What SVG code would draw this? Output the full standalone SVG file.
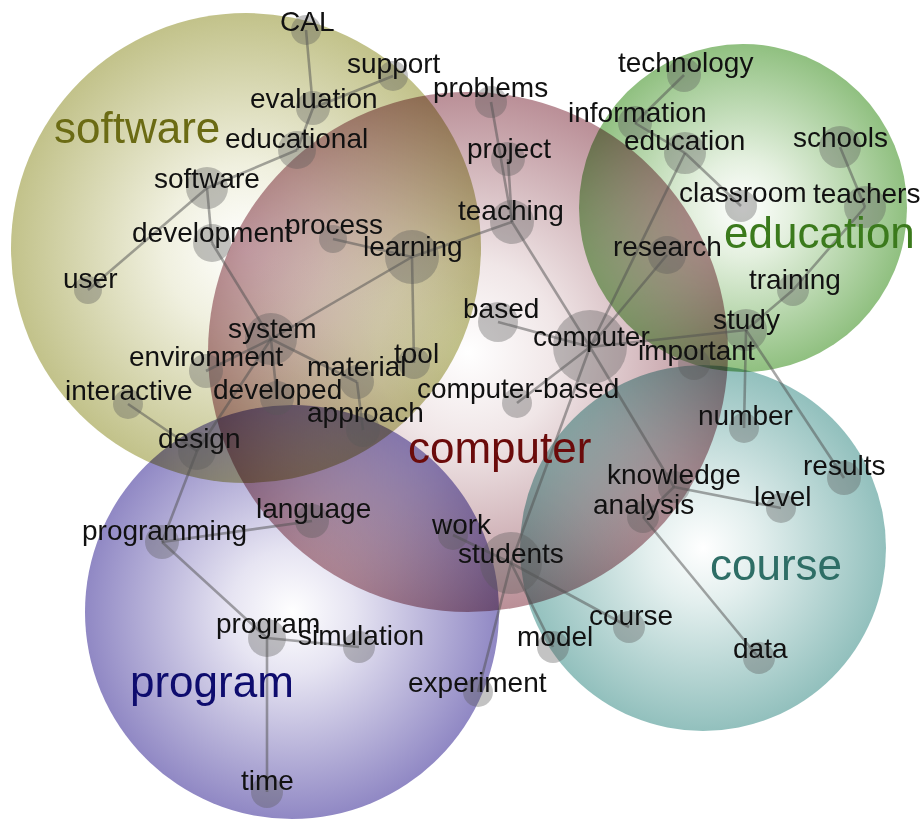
<svg xmlns="http://www.w3.org/2000/svg" width="922" height="819" viewBox="0 0 922 819">
  <defs>
    <radialGradient id="g-software" cx="50%" cy="50%" r="50%">
      <stop offset="0" stop-color="#ffffff"/>
      <stop offset="0.35" stop-color="#f0f0df"/>
      <stop offset="1" stop-color="#c2c28a"/>
    </radialGradient>
    <radialGradient id="g-computer" cx="50%" cy="50%" r="50%">
      <stop offset="0" stop-color="#ffffff"/>
      <stop offset="0.35" stop-color="#f0e6e7"/>
      <stop offset="1" stop-color="#ba8f97"/>
    </radialGradient>
    <radialGradient id="g-education" cx="50%" cy="50%" r="50%">
      <stop offset="0" stop-color="#ffffff"/>
      <stop offset="0.3" stop-color="#e4f0df"/>
      <stop offset="1" stop-color="#90c080"/>
    </radialGradient>
    <radialGradient id="g-course" cx="50%" cy="50%" r="50%">
      <stop offset="0" stop-color="#ffffff"/>
      <stop offset="0.3" stop-color="#e3efee"/>
      <stop offset="1" stop-color="#92c0bd"/>
    </radialGradient>
    <radialGradient id="g-program" cx="50%" cy="50%" r="50%">
      <stop offset="0" stop-color="#ffffff"/>
      <stop offset="0.3" stop-color="#e6e4f2"/>
      <stop offset="1" stop-color="#9088c4"/>
    </radialGradient>
  </defs>
  <style>
    .bubble { mix-blend-mode: multiply; }
    .node { fill: #5a5a5a; fill-opacity: 0.36; }
    .edge { stroke: #505050; stroke-opacity: 0.5; stroke-width: 2.6; fill: none; }
    .term { font-family: "Liberation Sans", Arial, sans-serif; font-size: 28px; fill: #111; }
    .topic { font-family: "Liberation Sans", Arial, sans-serif; font-size: 44px; }
  </style>

  <rect width="922" height="819" fill="#ffffff"/>

  <!-- topic bubbles -->
  <g id="topics">
    <circle id="topic-software" class="bubble" cx="246" cy="248" r="235" fill="url(#g-software)"/>
    <circle id="topic-computer" class="bubble" cx="468" cy="352" r="260" fill="url(#g-computer)"/>
    <circle id="topic-education" class="bubble" cx="743" cy="208" r="164" fill="url(#g-education)"/>
    <circle id="topic-course" class="bubble" cx="703" cy="548" r="183" fill="url(#g-course)"/>
    <circle id="topic-program" class="bubble" cx="292" cy="612" r="207" fill="url(#g-program)"/>
  </g>

  <!-- connectors between terms -->
  <g id="connectors" class="edge">
    <line x1="306" y1="30" x2="313" y2="108"/>
    <line x1="393" y1="76" x2="313" y2="108"/>
    <line x1="313" y1="108" x2="297" y2="150"/>
    <line x1="297" y1="150" x2="207" y2="188"/>
    <line x1="207" y1="188" x2="88" y2="290"/>
    <line x1="207" y1="188" x2="212" y2="243"/>
    <line x1="212" y1="243" x2="271" y2="339"/>
    <line x1="271" y1="339" x2="412" y2="257"/>
    <line x1="333" y1="239" x2="412" y2="257"/>
    <line x1="412" y1="257" x2="414" y2="363"/>
    <line x1="412" y1="257" x2="512" y2="222"/>
    <line x1="271" y1="339" x2="206" y2="371"/>
    <line x1="271" y1="339" x2="277" y2="398"/>
    <line x1="271" y1="339" x2="197" y2="451"/>
    <line x1="271" y1="339" x2="357" y2="382"/>
    <line x1="357" y1="382" x2="363" y2="430"/>
    <line x1="197" y1="451" x2="128" y2="404"/>
    <line x1="197" y1="451" x2="162" y2="542"/>
    <line x1="162" y1="542" x2="312" y2="521"/>
    <line x1="162" y1="542" x2="267" y2="638"/>
    <line x1="267" y1="638" x2="359" y2="647"/>
    <line x1="267" y1="638" x2="267" y2="792"/>
    <line x1="491" y1="102" x2="512" y2="222"/>
    <line x1="508" y1="159" x2="512" y2="222"/>
    <line x1="512" y1="222" x2="590" y2="347"/>
    <line x1="498" y1="322" x2="590" y2="347"/>
    <line x1="590" y1="347" x2="517" y2="403"/>
    <line x1="590" y1="347" x2="667" y2="255"/>
    <line x1="590" y1="347" x2="685" y2="153"/>
    <line x1="685" y1="153" x2="635" y2="123"/>
    <line x1="635" y1="123" x2="684" y2="75"/>
    <line x1="685" y1="153" x2="741" y2="206"/>
    <line x1="590" y1="347" x2="746" y2="330"/>
    <line x1="746" y1="330" x2="793" y2="290"/>
    <line x1="793" y1="290" x2="865" y2="207"/>
    <line x1="865" y1="207" x2="840" y2="147"/>
    <line x1="746" y1="330" x2="744" y2="428"/>
    <line x1="746" y1="330" x2="844" y2="478"/>
    <line x1="590" y1="347" x2="674" y2="487"/>
    <line x1="674" y1="487" x2="781" y2="508"/>
    <line x1="674" y1="487" x2="643" y2="517"/>
    <line x1="643" y1="517" x2="759" y2="658"/>
    <line x1="590" y1="347" x2="511" y2="563"/>
    <line x1="511" y1="563" x2="453" y2="535"/>
    <line x1="511" y1="563" x2="629" y2="627"/>
    <line x1="511" y1="563" x2="553" y2="647"/>
    <line x1="511" y1="563" x2="478" y2="692"/>
  </g>

  <!-- term nodes -->
  <g id="n-cal"><circle class="node" cx="306" cy="30" r="15"/><text class="term" x="280" y="31">CAL</text></g>
  <g id="n-support"><circle class="node" cx="393" cy="76" r="15"/><text class="term" x="347" y="73">support</text></g>
  <g id="n-evaluation"><circle class="node" cx="313" cy="108" r="17"/><text class="term" x="250" y="108">evaluation</text></g>
  <g id="n-educational"><circle class="node" cx="297" cy="150" r="19"/><text class="term" x="225" y="148">educational</text></g>
  <g id="n-software"><circle class="node" cx="207" cy="188" r="21"/><text class="term" x="154" y="188">software</text></g>
  <g id="n-development"><circle class="node" cx="212" cy="243" r="19"/><text class="term" x="132" y="242">development</text></g>
  <g id="n-process"><circle class="node" cx="333" cy="239" r="14"/><text class="term" x="285" y="234">process</text></g>
  <g id="n-learning"><circle class="node" cx="412" cy="257" r="27"/><text class="term" x="363" y="256">learning</text></g>
  <g id="n-user"><circle class="node" cx="88" cy="290" r="14"/><text class="term" x="63" y="288">user</text></g>
  <g id="n-system"><circle class="node" cx="271" cy="339" r="26"/><text class="term" x="228" y="338">system</text></g>
  <g id="n-environment"><circle class="node" cx="206" cy="371" r="17"/><text class="term" x="129" y="366">environment</text></g>
  <g id="n-tool"><circle class="node" cx="414" cy="363" r="16"/><text class="term" x="394" y="363">tool</text></g>
  <g id="n-material"><circle class="node" cx="357" cy="382" r="17"/><text class="term" x="307" y="376">material</text></g>
  <g id="n-interactive"><circle class="node" cx="128" cy="404" r="15"/><text class="term" x="65" y="400">interactive</text></g>
  <g id="n-developed"><circle class="node" cx="277" cy="398" r="17"/><text class="term" x="213" y="399">developed</text></g>
  <g id="n-approach"><circle class="node" cx="363" cy="430" r="17"/><text class="term" x="307" y="422">approach</text></g>
  <g id="n-design"><circle class="node" cx="197" cy="451" r="19"/><text class="term" x="158" y="448">design</text></g>
  <g id="n-programming"><circle class="node" cx="162" cy="542" r="17"/><text class="term" x="82" y="540">programming</text></g>
  <g id="n-language"><circle class="node" cx="312" cy="521" r="17"/><text class="term" x="256" y="518">language</text></g>
  <g id="n-program"><circle class="node" cx="267" cy="638" r="19"/><text class="term" x="216" y="633">program</text></g>
  <g id="n-simulation"><circle class="node" cx="359" cy="647" r="16"/><text class="term" x="298" y="645">simulation</text></g>
  <g id="n-time"><circle class="node" cx="267" cy="792" r="16"/><text class="term" x="241" y="790">time</text></g>
  <g id="n-problems"><circle class="node" cx="491" cy="102" r="16"/><text class="term" x="433" y="97">problems</text></g>
  <g id="n-project"><circle class="node" cx="508" cy="159" r="17"/><text class="term" x="467" y="158">project</text></g>
  <g id="n-teaching"><circle class="node" cx="512" cy="222" r="22"/><text class="term" x="458" y="220">teaching</text></g>
  <g id="n-based"><circle class="node" cx="498" cy="322" r="20"/><text class="term" x="463" y="318">based</text></g>
  <g id="n-computer"><circle class="node" cx="590" cy="347" r="37"/><text class="term" x="533" y="346">computer</text></g>
  <g id="n-computer-based"><circle class="node" cx="517" cy="403" r="15"/><text class="term" x="417" y="398">computer-based</text></g>
  <g id="n-technology"><circle class="node" cx="684" cy="75" r="17"/><text class="term" x="618" y="72">technology</text></g>
  <g id="n-information"><circle class="node" cx="635" cy="123" r="17"/><text class="term" x="568" y="122">information</text></g>
  <g id="n-education"><circle class="node" cx="685" cy="153" r="21"/><text class="term" x="624" y="150">education</text></g>
  <g id="n-schools"><circle class="node" cx="840" cy="147" r="21"/><text class="term" x="793" y="147">schools</text></g>
  <g id="n-classroom"><circle class="node" cx="741" cy="206" r="16"/><text class="term" x="679" y="202">classroom</text></g>
  <g id="n-teachers"><circle class="node" cx="865" cy="207" r="21"/><text class="term" x="813" y="203">teachers</text></g>
  <g id="n-research"><circle class="node" cx="667" cy="255" r="19"/><text class="term" x="613" y="256">research</text></g>
  <g id="n-training"><circle class="node" cx="793" cy="290" r="16"/><text class="term" x="749" y="289">training</text></g>
  <g id="n-study"><circle class="node" cx="746" cy="330" r="21"/><text class="term" x="713" y="329">study</text></g>
  <g id="n-important"><circle class="node" cx="694" cy="364" r="16"/><text class="term" x="638" y="360">important</text></g>
  <g id="n-number"><circle class="node" cx="744" cy="428" r="15"/><text class="term" x="698" y="425">number</text></g>
  <g id="n-results"><circle class="node" cx="844" cy="478" r="17"/><text class="term" x="803" y="475">results</text></g>
  <g id="n-knowledge"><circle class="node" cx="674" cy="487" r="16"/><text class="term" x="607" y="484">knowledge</text></g>
  <g id="n-level"><circle class="node" cx="781" cy="508" r="15"/><text class="term" x="754" y="506">level</text></g>
  <g id="n-analysis"><circle class="node" cx="643" cy="517" r="16"/><text class="term" x="593" y="514">analysis</text></g>
  <g id="n-work"><circle class="node" cx="453" cy="535" r="15"/><text class="term" x="432" y="534">work</text></g>
  <g id="n-students"><circle class="node" cx="511" cy="563" r="31"/><text class="term" x="458" y="563">students</text></g>
  <g id="n-course"><circle class="node" cx="629" cy="627" r="16"/><text class="term" x="589" y="625">course</text></g>
  <g id="n-model"><circle class="node" cx="553" cy="647" r="16"/><text class="term" x="517" y="646">model</text></g>
  <g id="n-data"><circle class="node" cx="759" cy="658" r="16"/><text class="term" x="733" y="658">data</text></g>
  <g id="n-experiment"><circle class="node" cx="478" cy="692" r="15"/><text class="term" x="408" y="692">experiment</text></g>

  <!-- topic labels -->
  <g id="topic-labels">
    <text class="topic" x="54" y="143" fill="#6b6b14">software</text>
    <text class="topic" x="408" y="463" fill="#6b0b0b">computer</text>
    <text class="topic" x="724" y="248" fill="#3b7a1c">education</text>
    <text class="topic" x="710" y="580" fill="#2e6e66">course</text>
    <text class="topic" x="130" y="697" fill="#0e0c6e">program</text>
  </g>
</svg>
